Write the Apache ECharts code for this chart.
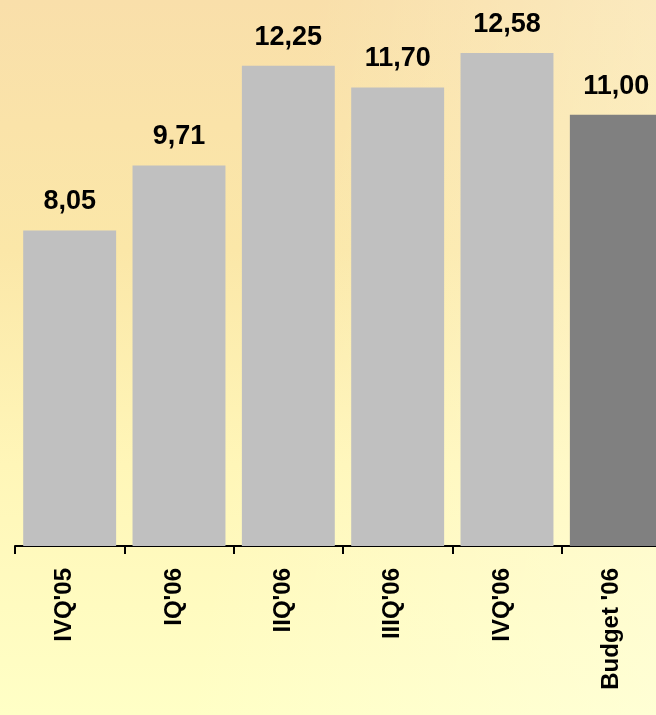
<!DOCTYPE html>
<html>
<head>
<meta charset="utf-8">
<script src="https://cdn.jsdelivr.net/npm/echarts@6/dist/echarts.min.js"></script>
<style>
html,body{margin:0;padding:0;}
#main{width:656px;height:715px;
background:
 linear-gradient(100deg, rgba(255,255,255,0) 40%, rgba(255,255,230,0.45) 100%),
 linear-gradient(180deg, #F9DFAA 0%, #FBE7A8 35%, #FFF6B8 65%, #FFFFC6 100%);}
</style>
</head>
<body>
<div id="main"></div>
<script>
const categories = ["IVQ'05", "IQ'06", "IIQ'06", "IIIQ'06", "IVQ'06", "Budget '06"];
const values = [8.05, 9.71, 12.25, 11.70, 12.58, 11.00];
const barColors = ["#C0C0C0", "#C0C0C0", "#C0C0C0", "#C0C0C0", "#C0C0C0", "#808080"];

const chart = echarts.init(document.getElementById('main'));
chart.setOption({
  backgroundColor: 'transparent',
  animation: false,
  grid: {left: 15, width: 656, top: 0, bottom: 169, containLabel: false, outerBoundsMode: 'none'},
  xAxis: {
    type: 'category',
    data: categories,
    axisLine: {show: true, lineStyle: {color: '#000', width: 2}},
    axisTick: {show: true, alignWithLabel: false, length: 8, lineStyle: {color: '#000', width: 2}},
    axisLabel: {
      rotate: 90, margin: 22, interval: 0,
      color: '#000', fontWeight: 'bold', fontSize: 24,
      fontFamily: '"Liberation Sans", Arial, sans-serif',
      verticalAlign: 'bottom', lineHeight: 10
    }
  },
  yAxis: {
    type: 'value', min: 0, max: 13.93, show: false,
    splitLine: {show: false}
  },
  series: [{
    type: 'bar',
    data: values.map((v, i) => ({value: v, itemStyle: {color: barColors[i]}})),
    barCategoryGap: '15%',
    label: {
      show: true, position: 'top', distance: 15,
      color: '#000', fontWeight: 'bold', fontSize: 27,
      fontFamily: '"Liberation Sans", Arial, sans-serif',
      formatter: p => p.value.toFixed(2).replace('.', ',')
    }
  }]
});
</script>
</body>
</html>
